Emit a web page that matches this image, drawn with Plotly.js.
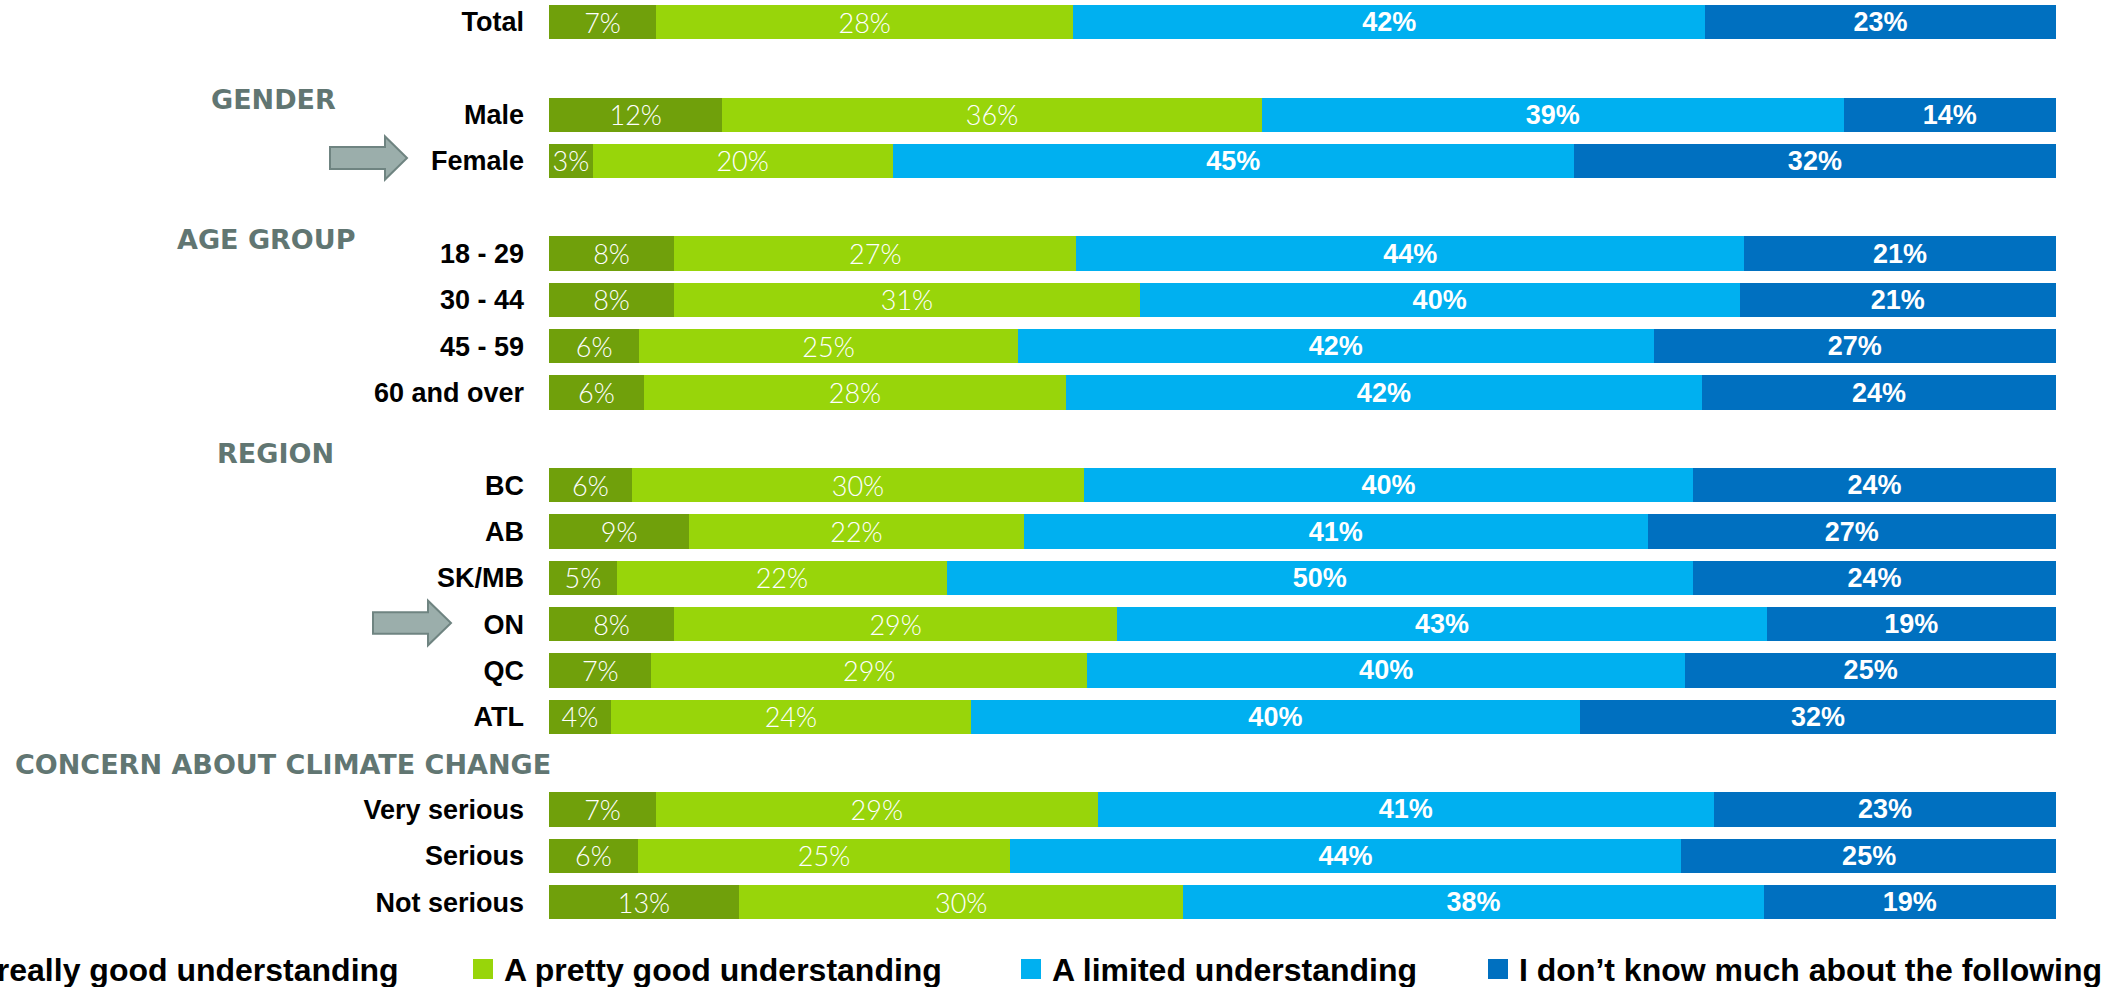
<!DOCTYPE html>
<html>
<head>
<meta charset="utf-8">
<script src="https://cdn.plot.ly/plotly-3.0.1.min.js"></script>
<style>
html,body{margin:0;padding:0;background:#fff;}
#chart{width:2128px;height:987px;}
</style>
</head>
<body>
<div id="chart"></div>
<script>
// ---- data ----
const categories = ["Total","Male","Female","18 - 29","30 - 44","45 - 59","60 and over","BC","AB","SK/MB","ON","QC","ATL","Very serious","Serious","Not serious"];
const seriesNames = ["A really good understanding","A pretty good understanding","A limited understanding","I don\u2019t know much about the following"];
// bar lengths
const reallyGood = [7.1,11.5,2.9,8.3,8.3,6.0,6.3,5.5,9.3,4.5,8.3,6.8,4.1,7.1,5.9,12.6];
const prettyGood = [27.7,35.8,19.9,26.7,30.9,25.1,28.0,30.0,22.2,21.9,29.4,28.9,23.9,29.3,24.7,29.5];
const limited    = [41.9,38.6,45.2,44.3,39.8,42.2,42.2,40.4,41.4,49.5,43.1,39.7,40.4,40.9,44.5,38.5];
const dontKnow   = [23.3,14.1,32.0,20.7,21.0,26.7,23.5,24.1,27.1,24.1,19.2,24.6,31.6,22.7,25.0,19.4];
// printed labels
const reallyGoodLbl = [7,12,3,8,8,6,6,6,9,5,8,7,4,7,6,13];
const prettyGoodLbl = [28,36,20,27,31,25,28,30,22,22,29,29,24,29,25,30];
const limitedLbl    = [42,39,45,44,40,42,42,40,41,50,43,40,40,41,44,38];
const dontKnowLbl   = [23,14,32,21,21,27,24,24,27,24,19,25,32,23,25,19];
const groupHeaders = ["GENDER","AGE GROUP","REGION","CONCERN ABOUT CLIMATE CHANGE"];

// ---- layout constants ----
const W = 2128, H = 987;
const plotL = 549, plotR = 2056, plotT = 0, plotB = 926;
const rowSlots = [0,2,3,5,6,7,8,10,11,12,13,14,15,17,18,19];
const headerPos = [[273,99],[266,240],[275,453],[283,764]]; // pixel centres
const colors = ["#70A00B","#98D50A","#00B0F0","#0070C0"];
const pitch = 46.32, row0 = 22;

function px2x(px){ return (px-plotL)/(plotR-plotL); }
function py2y(py){ return (plotB-py)/(plotB-plotT); }
function pyToSlot(py){ return (py-row0)/pitch; }

const vals = [reallyGood, prettyGood, limited, dontKnow];
const lbls = [reallyGoodLbl, prettyGoodLbl, limitedLbl, dontKnowLbl];

const traces = vals.map((v,i)=>({
  type:'bar', orientation:'h',
  x: v, y: rowSlots,
  name: seriesNames[i],
  text: lbls[i], texttemplate:'%{text}%',
  textposition:'inside', insidetextanchor:'middle', constraintext:'none',
  textfont: i<2 ? {family:'Lato, "Liberation Sans", sans-serif', size:27, color:'#ffffff', weight:300}
                : {family:'"Liberation Sans", Arial, sans-serif', size:27, color:'#ffffff', weight:'bold'},
  marker:{color:colors[i], line:{width:0}},
  width:0.74,
  hoverinfo:'skip', showlegend:false
}));

const annotations = [];
groupHeaders.forEach((h,i)=>{
  annotations.push({
    xref:'paper', yref:'paper', x:px2x(headerPos[i][0]), y:py2y(headerPos[i][1]),
    xanchor:'center', yanchor:'middle', showarrow:false, text:h,
    font:{family:'"DejaVu Sans", sans-serif', size:27, color:'#617672', weight:'bold'}
  });
});

// legend (manual)
const legendY = 969;
const legendItems = [
  {marker:-56, text:-36},
  {marker:473, text:502},
  {marker:1021, text:1050},
  {marker:1488, text:1517}
];
const shapes = [];
legendItems.forEach((it,i)=>{
  shapes.push({type:'rect', xref:'paper', yref:'paper',
    x0:px2x(it.marker), x1:px2x(it.marker+20), y0:py2y(legendY+10), y1:py2y(legendY-10),
    fillcolor:colors[i], line:{width:0}});
  annotations.push({xref:'paper', yref:'paper', x:px2x(it.text), y:py2y(legendY+1),
    xanchor:'left', yanchor:'middle', showarrow:false, text:seriesNames[i],
    font:{family:'"Liberation Sans", Arial, sans-serif', size:32, color:'#000000', weight:'bold'}});
});

// arrows
function arrowPath(x0, neck, tip, cy, hs, hh){
  const p = [[x0,cy-hs],[neck,cy-hs],[neck,cy-hh],[tip,cy],[neck,cy+hh],[neck,cy+hs],[x0,cy+hs]];
  return 'M ' + p.map(q=>px2x(q[0])+','+py2y(q[1])).join(' L ') + ' Z';
}
shapes.push({type:'path', xref:'paper', yref:'paper', path:arrowPath(330,385,407,158,11,21.5),
  fillcolor:'#9BAEAB', line:{color:'#6F8481', width:2}});
shapes.push({type:'path', xref:'paper', yref:'paper', path:arrowPath(373,428,451,623,10.7,22.3),
  fillcolor:'#9BAEAB', line:{color:'#6F8481', width:2}});

const layout = {
  width:W, height:H,
  margin:{l:plotL, r:W-plotR, t:plotT, b:H-plotB, pad:0},
  paper_bgcolor:'#ffffff', plot_bgcolor:'#ffffff',
  barmode:'stack',
  showlegend:false,
  xaxis:{range:[0,100], visible:false, fixedrange:true},
  yaxis:{range:[pyToSlot(plotB), pyToSlot(plotT)], tickvals:rowSlots, ticktext:categories,
    showgrid:false, zeroline:false, showline:false, ticks:'', ticklabelstandoff:24,
    tickfont:{family:'"Liberation Sans", Arial, sans-serif', size:27, color:'#000000', weight:'bold'},
    fixedrange:true},
  annotations:annotations,
  shapes:shapes
};

Plotly.newPlot('chart', traces, layout, {displayModeBar:false, staticPlot:true});
</script>
</body>
</html>
